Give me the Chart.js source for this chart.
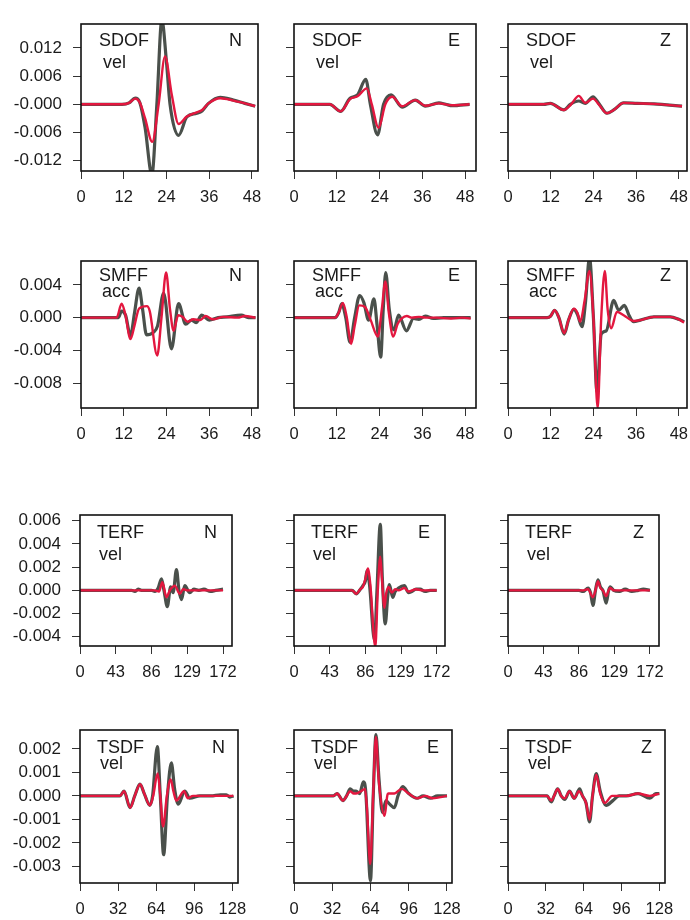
<!DOCTYPE html>
<html><head><meta charset="utf-8">
<script src="https://cdn.jsdelivr.net/npm/chart.js@4.4.0/dist/chart.umd.min.js"></script>
<style>
html,body{margin:0;padding:0;background:#fff;}
body{width:690px;height:920px;position:relative;overflow:hidden;}
canvas{position:absolute;}
</style></head><body>
<script>
// ---------- labels ----------
const METHODS = ['SDOF', 'SMFF', 'TERF', 'TSDF'];
const QUANTITIES = ['vel', 'acc', 'vel', 'vel'];
const COMPONENTS = ['N', 'E', 'Z'];

// ---------- tick values / labels ----------
const X_TICKS_SDOF = [0, 12, 24, 36, 48];
const X_TICKS_SMFF = [0, 12, 24, 36, 48];
const X_TICKS_TERF = [0, 43, 86, 129, 172];
const X_TICKS_TSDF = [0, 32, 64, 96, 128];

const Y_TICKS_SDOF = [-0.012, -0.006, 0, 0.006, 0.012];
const Y_LABELS_SDOF = ['-0.012', '-0.006', '-0.000', '0.006', '0.012'];
const Y_TICKS_SMFF = [-0.008, -0.004, 0, 0.004];
const Y_LABELS_SMFF = ['-0.008', '-0.004', '0.000', '0.004'];
const Y_TICKS_TERF = [-0.004, -0.002, 0, 0.002, 0.004, 0.006];
const Y_LABELS_TERF = ['-0.004', '-0.002', '0.000', '0.002', '0.004', '0.006'];
const Y_TICKS_TSDF = [-0.003, -0.002, -0.001, 0, 0.001, 0.002];
const Y_LABELS_TSDF = ['-0.003', '-0.002', '-0.001', '0.000', '0.001', '0.002'];

// axis limits
const Y_RANGE_SDOF = [-0.0142, 0.0171];
const Y_RANGE_SMFF = [-0.0110, 0.0069];
const Y_RANGE_TERF = [-0.0048, 0.0065];
const Y_RANGE_TSDF = [-0.0037, 0.0028];
const X_MAX_SDOF = [49.7, 51, 50.3];
const X_MAX_SMFF = [49.7, 51, 50.3];
const X_MAX_TERF = [182.8, 182, 183];
const X_MAX_TSDF = [132.8, 132.2, 132.8];

// ---------- series: [time, value] (gray = observed, red = synthetic) ----------
const sdofN_obs = [[0,0],[11.5,0],[13.5,0.0003],[15.2,0.0013],[16.5,0.0004],[18,-0.005],[19.9,-0.0150],[21.3,0],[22.7,0.0180],[24,0.009],[25,0],[27.4,-0.0066],[29.7,-0.0027],[32.5,-0.0019],[34,-0.0014],[35.8,0.0002],[39.1,0.0015],[42.8,0.0009],[46,0.0002],[48.9,-0.0004]];
const sdofN_syn = [[0,0],[11.5,0],[13.5,0.0003],[15.2,0.0012],[16.5,0.0004],[18,-0.003],[20,-0.0080],[21.8,0],[23.6,0.0102],[25.5,0.002],[27.4,-0.0042],[29.7,-0.0026],[32.5,-0.0017],[34,-0.0012],[35.8,0.0002],[39.1,0.0013],[42.8,0.0008],[46,0.0002],[48.9,-0.0004]];
const sdofE_obs = [[0,0],[10,0],[13.1,-0.0015],[15.7,0.0013],[17.8,0.0020],[20.1,0.0053],[21.4,0],[23.4,-0.0065],[25.1,0],[27.2,0.0020],[30.3,-0.0006],[34,0.0009],[36.8,-0.0004],[40.6,0.0003],[42.5,0],[44.3,-0.0003],[49.2,0]];
const sdofE_syn = [[0,0],[10,0],[13.1,-0.0015],[15.7,0.0011],[17.8,0.0017],[20.4,0.0034],[21.8,0],[23.7,-0.0050],[25.6,0],[27.5,0.0016],[30.3,-0.0004],[34,0.0009],[36.8,-0.0003],[40.6,0.0002],[44.3,-0.0002],[49.2,0]];
const sdofZ_obs = [[0,0],[10,0],[11.9,0.0002],[15.7,-0.0012],[17.5,0],[19.9,0.0007],[21.7,0.0002],[23.9,0.0016],[25.5,0.0002],[27.8,-0.0019],[29.7,-0.0012],[32.5,0.0003],[36.3,0.0002],[41,0.0001],[48.9,-0.0004]];
const sdofZ_syn = [[0,0],[10,0],[11.9,0.0002],[15.7,-0.0012],[17.5,-0.0002],[19.9,0.0018],[21.7,0.0003],[23.9,0.0012],[25.5,0],[27.8,-0.0019],[29.7,-0.0012],[32.5,0.0003],[36.3,0.0002],[41,0.0001],[48.9,-0.0004]];

const smffN_obs = [[0,0],[10.5,0],[11.4,0.0008],[12.5,0.0003],[13.9,-0.0022],[15,0.0005],[16.3,0.0036],[17.3,0.001],[18.4,-0.0021],[20.3,-0.0018],[21.5,-0.0010],[23.2,0.0030],[25.4,-0.0038],[27.4,0.0017],[29.4,-0.0008],[31,-0.0003],[32.3,-0.0006],[33.9,0.0003],[36,-0.0003],[38.5,0],[41,0.0001],[45,0.0003],[47,0],[49,0]];
const smffN_syn = [[0,0],[10,0],[11.4,0.0017],[12.4,0.0005],[13.9,-0.0026],[15,-0.001],[16.3,0.0011],[18.5,0.0014],[19.3,0.0008],[21.4,-0.0046],[22.6,0],[23.9,0.0055],[25,0.001],[26,-0.0016],[27.3,0.0003],[28.5,0.0001],[30,-0.0005],[31.5,-0.0002],[33.5,-0.0003],[35,0.0002],[37,-0.0002],[40,0.0001],[44,0],[46,0.0002],[49,0]];
const smffE_obs = [[0,0],[11.5,0],[12.5,0.0006],[13.4,0.0017],[14.5,0],[15.7,-0.0030],[17,0],[18.4,0.0027],[19.6,0.0018],[20.9,-0.0003],[22.4,0.0023],[23.3,-0.001],[24.3,-0.0048],[25,0.001],[25.7,0.0055],[26.7,0.001],[28,-0.0015],[29.3,0.0003],[31.5,-0.0016],[33.5,-0.0001],[35,-0.0002],[36.8,0.0002],[39,-0.0001],[42,0],[45,0],[49.5,0]];
const smffE_syn = [[0,0],[11.5,0],[12.5,0.0006],[13.7,0.0018],[14.8,0],[16,-0.0032],[17,-0.001],[18.3,0.0015],[19.9,0.0013],[21.5,-0.0003],[23.5,-0.0023],[24.6,0.001],[25.6,0.0044],[26.6,0.0005],[27.8,-0.0023],[29,-0.0008],[30.2,-0.0001],[31.6,0.0002],[33,0],[35,0.0001],[37,0],[40,0],[44,-0.0001],[47,0],[49.5,-0.0001]];
const smffZ_obs = [[0,0],[11,0],[12,0.0002],[13.1,0.0009],[14.3,0],[15.8,-0.0020],[17,-0.0003],[18.5,0.0010],[19.5,0.0004],[20.8,-0.0011],[21.8,0.002],[22.9,0.0073],[24,0],[25,-0.0090],[26.2,-0.002],[27.6,-0.0016],[29.7,0.0021],[31.1,0.0009],[32.7,0.0015],[34,0.0003],[35.3,-0.0005],[37.2,-0.0003],[41,0.0001],[45.6,0.0001],[48,-0.0002],[49.5,-0.0005]];
const smffZ_syn = [[0,0],[11,0],[12,0.0002],[13.1,0.0009],[14.3,0],[15.8,-0.0019],[17,-0.0003],[18.5,0.0011],[19.5,0.0006],[20.3,-0.0005],[21.5,0.002],[22.9,0.0057],[24,0],[25.2,-0.0110],[26.2,0],[27.2,0.0057],[28,0.001],[29,-0.0013],[30.6,0.0007],[32.5,0.0003],[35.3,-0.0004],[37.2,-0.0003],[41,0.0001],[45.6,0.0001],[48,-0.0002],[49.5,-0.0006]];

const terfN_obs = [[0,0],[62,0],[66,-0.0001],[70,0.0001],[74,0],[86,0],[90,-0.0001],[94,0.0002],[98,0.0010],[101,0],[105,-0.0014],[109,0.0003],[112,-0.0002],[116,0.0018],[119,0],[122,-0.0008],[126,0.0004],[132,-0.0002],[137,0.0001],[143,0],[149,0.0001],[157,-0.0001],[163,0],[172,0.0001]];
const terfN_syn = [[0,0],[90,0],[95,-0.0001],[99,0.0007],[104,-0.0006],[108,0],[110,0.0002],[114,0.0004],[120,-0.0003],[124,0.0001],[130,0],[172,0]];
const terfE_obs = [[0,0],[64,0],[70,0],[75,-0.0003],[80,0.0001],[83,0.0004],[86,0.0008],[88,0.0017],[91,0.0005],[97,-0.0043],[100,0],[104,0.0057],[106.5,0.001],[110,-0.0029],[113,-0.0005],[115,0.0005],[119,-0.0006],[122,-0.0001],[126,0.0002],[133,0.0004],[138,-0.0002],[142,-0.0001],[147,0.0001],[152,0.0001],[158,-0.0001],[164,0],[172,0]];
const terfE_syn = [[0,0],[64,0],[70,0],[75,-0.0003],[80,0.0001],[83,0.0003],[86,0.0010],[89,0.0019],[92,0.0005],[98,-0.0049],[101,0],[104,0.0029],[106,0.001],[109,-0.0015],[111,-0.0003],[114,0.0003],[118,-0.0002],[122,0.0001],[126,0],[133,0.0002],[138,-0.0001],[147,0.0001],[155,0],[164,0],[172,0]];
const terfZ_obs = [[0,0],[86,0],[91,-0.0001],[97,0.0002],[100,-0.0002],[103,-0.0013],[106,0],[109,0.0009],[112,0.0003],[115,0],[119,-0.0011],[122,0],[124,0.0003],[128,0],[135,-0.0001],[142,0.0001],[150,-0.0001],[158,0],[164,0.0001],[172,0]];
const terfZ_syn = [[0,0],[90,0],[97,0.0001],[103,-0.0006],[106,0],[109,0.0008],[112,0.0002],[115,0],[119,-0.0005],[122,0],[124,0.0002],[128,0],[172,0]];

const tsdfN_obs = [[0,0],[33.6,0],[37,0.0002],[42,-0.0005],[46,0],[50.4,0.0005],[54,0.0001],[58.6,-0.0004],[61,0],[65,0.0021],[67.5,0],[70.3,-0.0025],[73.5,0],[76.8,0.0014],[79.5,0.0003],[82.6,-0.00035],[88,0.0002],[92.4,-0.0001],[100.8,0],[110,0],[118,0.00005],[123,0.00005],[126,-0.00005],[129,0]];
const tsdfN_syn = [[0,0],[33.6,0],[37,0.0002],[42.3,-0.0005],[46,0],[50.6,0.0005],[54,0.0001],[58.8,-0.0004],[61.5,0],[65.3,0.00095],[67.5,0],[69.8,-0.0013],[73,0],[76.2,0.0007],[78.5,0.0002],[81,-0.0002],[87.5,0.0002],[90.5,-0.0001],[95,0],[129,0]];
const tsdfE_obs = [[0,0],[30,0],[33,0],[36,0.0001],[41,-0.0002],[44,0],[47,0.0003],[50,0.0002],[52,0.0002],[55,0.0001],[58,0.0006],[60,0.0002],[64,-0.0036],[66.3,0],[68.6,0.0026],[71,0.0008],[74,-0.0007],[77,-0.0002],[80,-0.00035],[84,-0.0005],[87,0],[91,0.0004],[96,0.0001],[103,-0.0001],[108,0],[114,-0.0001],[120,0],[128,0]];
const tsdfE_syn = [[0,0],[30,0],[33,0],[36,0.0001],[41,-0.0002],[44,0],[47,0.0002],[50,0.0001],[52,0.0001],[56,0.0002],[59.4,0.0003],[61,-0.0005],[63.8,-0.0029],[66.2,0],[68.5,0.00250],[71,0.0006],[75.8,-0.00085],[78,0],[79,0.0001],[84,0.0001],[90,0.0003],[96,0.0001],[103,-0.0001],[110,0],[116,-0.0001],[128,0]];
const tsdfZ_obs = [[0,0],[30,0],[33,0],[36.6,-0.00025],[39,0],[42,0.0003],[45,0],[48,-0.00015],[52,0.0002],[56,-0.0001],[60.6,0.0003],[63,0],[66,-0.0003],[69,-0.0011],[71.5,0],[74.6,0.00095],[78,0.0002],[83,-0.0004],[88.7,-0.0002],[94,0],[100,0],[110,0.0001],[120,-0.0001],[125,0.0001],[128,0.0001]];
const tsdfZ_syn = [[0,0],[33,0],[36.6,-0.0002],[39,0],[42,0.0003],[45,0],[48,-0.0001],[52,0.0002],[56,-0.0001],[60,0.0002],[63,0],[66,-0.0003],[69,-0.0010],[71.5,0],[74.6,0.0009],[78,0.0001],[82,-0.0003],[88,0],[100,0],[110,0.0001],[120,0],[128,0.0001]];

// ---------- grouping built from the arrays above ----------
const ROWS = [
  {xt: X_TICKS_SDOF, yt: Y_TICKS_SDOF, yl: Y_LABELS_SDOF, yr: Y_RANGE_SDOF, xm: X_MAX_SDOF, s: [[sdofN_obs, sdofN_syn], [sdofE_obs, sdofE_syn], [sdofZ_obs, sdofZ_syn]]},
  {xt: X_TICKS_SMFF, yt: Y_TICKS_SMFF, yl: Y_LABELS_SMFF, yr: Y_RANGE_SMFF, xm: X_MAX_SMFF, s: [[smffN_obs, smffN_syn], [smffE_obs, smffE_syn], [smffZ_obs, smffZ_syn]]},
  {xt: X_TICKS_TERF, yt: Y_TICKS_TERF, yl: Y_LABELS_TERF, yr: Y_RANGE_TERF, xm: X_MAX_TERF, s: [[terfN_obs, terfN_syn], [terfE_obs, terfE_syn], [terfZ_obs, terfZ_syn]]},
  {xt: X_TICKS_TSDF, yt: Y_TICKS_TSDF, yl: Y_LABELS_TSDF, yr: Y_RANGE_TSDF, xm: X_MAX_TSDF, s: [[tsdfN_obs, tsdfN_syn], [tsdfE_obs, tsdfE_syn], [tsdfZ_obs, tsdfZ_syn]]}
];

// ---------- layout (pixels) ----------
const ROW_TOP = [24, 261, 515, 730];
const ROW_H = [147, 147, 131, 153];
const COL_LEFT = [[81, 294, 508], [81, 294, 508], [80, 294, 508], [80, 294, 508]];
const COL_W = [[177, 182, 179], [177, 182, 179], [152, 151, 151], [158, 158, 157]];
// text offsets inside each box: [nameX, nameY, qtyX, qtyY, compRightX]
const TEXT_OFF = [[18, 17, 22, 39, 16], [18, 15, 21, 31, 16], [17, 18, 19, 40, 15], [17, 18, 20, 34, 13]];

const FONT = '"Liberation Sans", Arial, Helvetica, sans-serif';
Chart.defaults.font.family = FONT;

const panelDeco = {
  id: 'panelDeco',
  afterDatasetsDraw(chart, args, o) {
    const ctx = chart.ctx, a = chart.chartArea;
    ctx.save();
    ctx.strokeStyle = '#111';
    ctx.lineWidth = 1.6;
    ctx.strokeRect(a.left, a.top, a.right - a.left, a.bottom - a.top);
    ctx.fillStyle = '#1a1a1a';
    ctx.font = '18px ' + FONT;
    ctx.textBaseline = 'middle';
    ctx.textAlign = 'left';
    ctx.fillText(o.name, a.left + o.off[0], a.top + o.off[1]);
    ctx.fillText(o.qty, a.left + o.off[2], a.top + o.off[3]);
    ctx.textAlign = 'right';
    ctx.fillText(o.comp, a.right - o.off[4], a.top + o.off[1]);
    ctx.restore();
  }
};

function toXY(arr) { return arr.map(p => ({x: p[0], y: p[1]})); }
function noPad(s) { s.paddingTop = 0; s.paddingBottom = 0; s.paddingLeft = 0; s.paddingRight = 0; }

for (let r = 0; r < 4; r++) {
  const R = ROWS[r];
  for (let c = 0; c < 3; c++) {
    const bl = COL_LEFT[r][c], bt = ROW_TOP[r], bw = COL_W[r][c], bh = ROW_H[r];
    const ML = c === 0 ? bl : 22, MT = 4, MR = 22, MB = 46;
    const W = bw + ML + MR, H = bh + MT + MB;
    const cv = document.createElement('canvas');
    cv.width = W; cv.height = H;
    cv.style.left = (bl - ML) + 'px'; cv.style.top = (bt - MT) + 'px';
    cv.style.width = W + 'px'; cv.style.height = H + 'px';
    document.body.appendChild(cv);
    const [obs, syn] = R.s[c];
    new Chart(cv, {
      type: 'line',
      data: {datasets: [
        {data: toXY(obs), order: 2, borderColor: '#4a504b', borderWidth: 3.2, pointRadius: 0, cubicInterpolationMode: 'monotone', clip: 0},
        {data: toXY(syn), order: 1, borderColor: '#e3173f', borderWidth: 2.4, pointRadius: 0, cubicInterpolationMode: 'monotone', clip: 0}
      ]},
      plugins: [panelDeco],
      options: {
        responsive: false, animation: false, devicePixelRatio: 1,
        layout: {padding: {top: MT, right: MR, left: 0, bottom: 0}},
        events: [],
        plugins: {
          legend: {display: false}, tooltip: {enabled: false},
          panelDeco: {name: METHODS[r], qty: QUANTITIES[r], comp: COMPONENTS[c], off: TEXT_OFF[r]}
        },
        scales: {
          x: {
            type: 'linear', min: 0, max: R.xm[c],
            afterBuildTicks: s => { s.ticks = R.xt.map(v => ({value: v})); },
            afterFit: s => { s.height = MB; noPad(s); },
            grid: {drawOnChartArea: false, drawTicks: true, tickLength: 8, color: '#333', lineWidth: 1},
            border: {display: false},
            ticks: {autoSkip: false, maxRotation: 0, padding: 9, color: '#1a1a1a', font: {size: 16.5},
                    callback: (v, i) => String(R.xt[i])}
          },
          y: {
            type: 'linear', min: R.yr[0], max: R.yr[1],
            afterBuildTicks: s => { s.ticks = R.yt.map(v => ({value: v})); },
            afterFit: s => { s.width = ML; noPad(s); },
            grid: {drawOnChartArea: false, drawTicks: true, tickLength: 8, color: '#333', lineWidth: 1},
            border: {display: false},
            ticks: {display: c === 0, autoSkip: false, padding: 11, color: '#1a1a1a', font: {size: 17},
                    callback: (v, i) => R.yl[i]}
          }
        }
      }
    });
  }
}
</script>
</body></html>
